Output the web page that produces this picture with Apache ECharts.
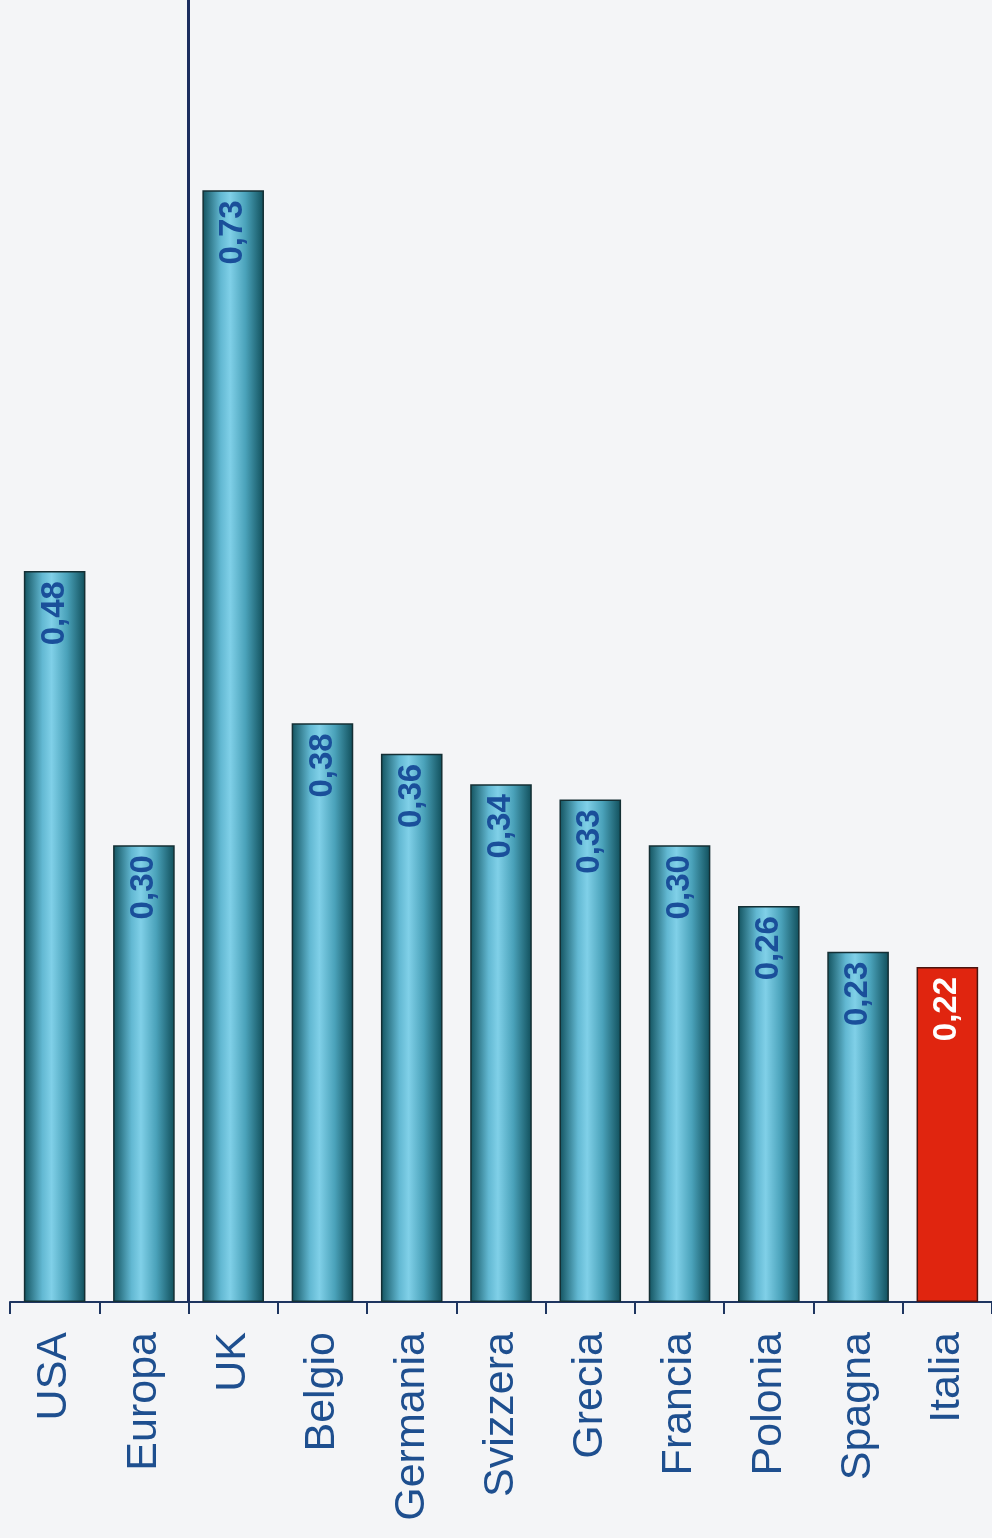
<!DOCTYPE html>
<html>
<head>
<meta charset="utf-8">
<script src="https://cdn.jsdelivr.net/npm/echarts@6/dist/echarts.min.js"></script>
<style>
html,body{margin:0;padding:0;background:#f4f5f7;}
#chart{width:992px;height:1538px;}
</style>
</head>
<body>
<div id="chart"></div>
<script>
const categories = ['USA','Europa','UK','Belgio','Germania','Svizzera','Grecia','Francia','Polonia','Spagna','Italia'];
const values = [0.48,0.30,0.73,0.38,0.36,0.34,0.33,0.30,0.26,0.23,0.22];
const highlight = 'Italia';
const separatorIndex = 2;

const chart = echarts.init(document.getElementById('chart'));
const tealGrad = new echarts.graphic.LinearGradient(0,0,1,0,[
  {offset:0,color:'#12525e'},
  {offset:0.3,color:'#62b8d2'},
  {offset:0.45,color:'#80d0e8'},
  {offset:0.7,color:'#4aa2ba'},
  {offset:1,color:'#104e5a'}
]);
const data = categories.map((c,i)=>{
  const isHi = c===highlight;
  return {
    value: values[i],
    itemStyle: isHi ? {color:'#e0250f',borderColor:'#4a1510',borderWidth:1.5} : {color:tealGrad,borderColor:'#142f34',borderWidth:1.5},
    label: isHi ? {color:'#ffffff'} : {}
  };
});
chart.setOption({
  backgroundColor:'#f4f5f7',
  animation:false,
  grid:{left:10,top:0,width:988,bottom:236,containLabel:false},
  xAxis:[{
    type:'category',
    data:categories,
    axisLine:{lineStyle:{color:'#1e3560',width:2}},
    axisTick:{show:true,length:12,lineStyle:{color:'#1e3560',width:2}},
    axisLabel:{rotate:90,margin:30,fontSize:43,fontFamily:'Liberation Sans, Arial, sans-serif',color:'#1e4f8f'},
    splitLine:{show:false}
  },{
    type:'value',min:0,max:categories.length,show:false,splitLine:{show:false}
  }],
  yAxis:{
    type:'value',min:0,max:0.855,show:false,splitLine:{show:false}
  },
  series:[{
    type:'bar',
    data:data,
    barWidth:'69%',
    label:{
      show:true,
      position:'insideTop',
      rotate:90,
      align:'right',
      verticalAlign:'middle',
      distance:10,
      fontSize:33,
      fontWeight:'bold',
      fontFamily:'Liberation Sans, Arial, sans-serif',
      color:'#1a4f9a',
      formatter:(p)=>p.value.toFixed(2).replace('.',',')
    }
  },{
    type:'scatter',
    xAxisIndex:1,
    data:[[separatorIndex,0]],
    symbolSize:0,
    silent:true,
    markLine:{
      silent:true,
      symbol:'none',
      label:{show:false},
      lineStyle:{color:'#1b2d5e',width:3,type:'solid'},
      data:[{xAxis:separatorIndex}]
    }
  }]
});
</script>
</body>
</html>
